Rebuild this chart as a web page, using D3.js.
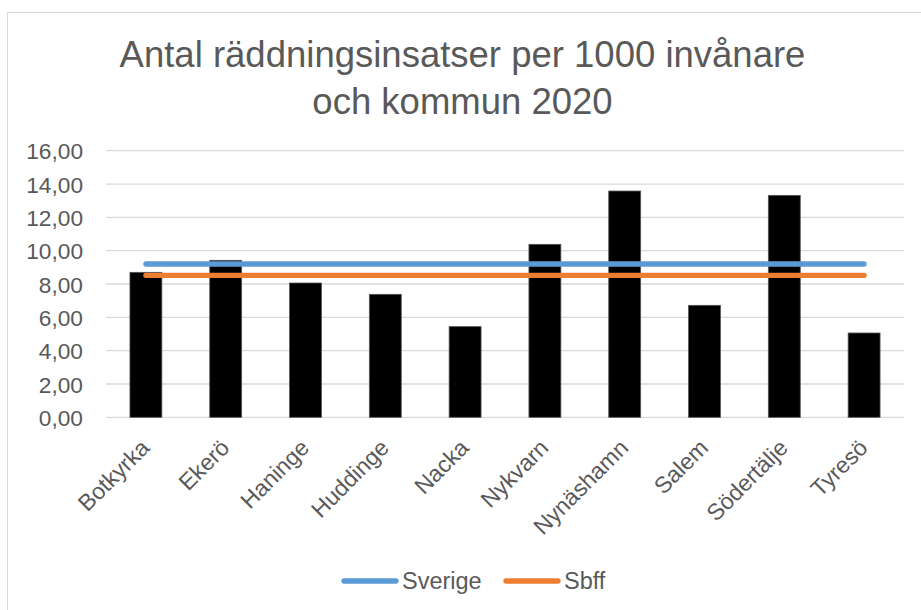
<!DOCTYPE html>
<html>
<head>
<meta charset="utf-8">
<script src="https://cdn.jsdelivr.net/npm/d3@7"></script>
<style>
  body { margin: 0; background: #fff; }
  svg { font-family: "Liberation Sans", Arial, sans-serif; }
</style>
</head>
<body>
<svg width="921" height="610"></svg>
<script>
const width = 921, height = 610;
const svg = d3.select("svg");

// Data
const kommuner = ["Botkyrka", "Ekerö", "Haninge", "Huddinge", "Nacka", "Nykvarn", "Nynäshamn", "Salem", "Södertälje", "Tyresö"];
const insatser = [8.70, 9.42, 8.06, 7.38, 5.44, 10.38, 13.58, 6.72, 13.32, 5.06];
const sverige = [9.20, 9.20, 9.20, 9.20, 9.20, 9.20, 9.20, 9.20, 9.20, 9.20];
const sbff = [8.52, 8.52, 8.52, 8.52, 8.52, 8.52, 8.52, 8.52, 8.52, 8.52];
const yTicks = [0, 2, 4, 6, 8, 10, 12, 14, 16];
const titleLines = ["Antal räddningsinsatser per 1000 invånare", "och kommun 2020"];
const series = [
    { name: "Sverige", values: sverige, color: "#5b9bd5" },
    { name: "Sbff", values: sbff, color: "#ed7d31" }
];

const margin = { left: 106, right: 17, top: 150.7, bottom: 192.7 };
const textColor = "#595959";
const font = "Liberation Sans, Arial, sans-serif";

// Chart frame
svg.append("rect")
    .attr("x", 7.5).attr("y", 12.5)
    .attr("width", 1000).attr("height", 1000)
    .attr("fill", "#fff")
    .attr("stroke", "#d9d9d9").attr("stroke-width", 1);

// Title
svg.append("text")
    .attr("text-anchor", "middle")
    .attr("fill", textColor)
    .style("font-size", "36.5px")
    .selectAll("tspan")
    .data(titleLines)
    .enter().append("tspan")
    .attr("x", 462.5)
    .attr("y", (d, i) => 67 + i * 47)
    .text(d => d);

const xScale = d3.scaleBand()
    .domain(kommuner)
    .range([margin.left, width - margin.right])
    .paddingInner(0.6)
    .paddingOuter(0.3);

const yScale = d3.scaleLinear()
    .domain([0, 16])
    .range([height - margin.bottom, margin.top]);

// Gridlines
svg.append("g")
    .selectAll("line")
    .data(yTicks)
    .enter().append("line")
    .attr("x1", margin.left).attr("x2", width - margin.right)
    .attr("y1", d => yScale(d)).attr("y2", d => yScale(d))
    .attr("stroke", "#d9d9d9").attr("stroke-width", 1.3);

// Y axis labels
const yAxis = svg.append("g")
    .attr("transform", "translate(83,0)")
    .call(d3.axisLeft(yScale).tickValues(yTicks).tickSize(0)
        .tickFormat(d => d3.format(".2f")(d).replace(".", ",")));
yAxis.select(".domain").remove();
yAxis.selectAll(".tick text")
    .attr("x", 0).attr("dy", "0.36em")
    .attr("fill", textColor)
    .style("font-family", font)
    .style("font-size", "22.7px");

// Bars
svg.selectAll(".bar")
    .data(kommuner)
    .enter().append("rect")
    .attr("class", "bar")
    .attr("x", d => xScale(d))
    .attr("y", (d, i) => yScale(insatser[i]))
    .attr("width", xScale.bandwidth())
    .attr("height", (d, i) => yScale(0) - yScale(insatser[i]))
    .attr("fill", "#000")
    .attr("stroke", "#555").attr("stroke-width", 0.8);

// X axis labels, rotated 45 degrees
const xAxis = svg.append("g")
    .attr("transform", `translate(0,${yScale(0)})`)
    .call(d3.axisBottom(xScale).tickSize(0));
xAxis.select(".domain").remove();
xAxis.selectAll(".tick text")
    .attr("text-anchor", "end")
    .attr("x", 0).attr("y", 0).attr("dy", 0)
    .attr("transform", "translate(5,32) rotate(-45)")
    .attr("fill", textColor)
    .style("font-family", font)
    .style("font-size", "23px");

// Reference lines
const line = d3.line()
    .x((d, i) => xScale(kommuner[i]) + xScale.bandwidth() / 2)
    .y(d => yScale(d));

svg.selectAll(".ref")
    .data(series)
    .enter().append("path")
    .attr("class", "ref")
    .attr("d", d => line(d.values))
    .attr("fill", "none")
    .attr("stroke", d => d.color)
    .attr("stroke-width", 5.3)
    .attr("stroke-linecap", "round");

// Legend
const legendX = [344, 506];
const legend = svg.selectAll(".legend")
    .data(series)
    .enter().append("g")
    .attr("class", "legend")
    .attr("transform", (d, i) => `translate(${legendX[i]},581)`);
legend.append("line")
    .attr("x1", 0).attr("x2", 52)
    .attr("stroke", d => d.color)
    .attr("stroke-width", 5.3)
    .attr("stroke-linecap", "round");
legend.append("text")
    .attr("x", 58).attr("dy", "0.36em")
    .attr("fill", textColor)
    .style("font-size", "23.5px")
    .text(d => d.name);
</script>
</body>
</html>
